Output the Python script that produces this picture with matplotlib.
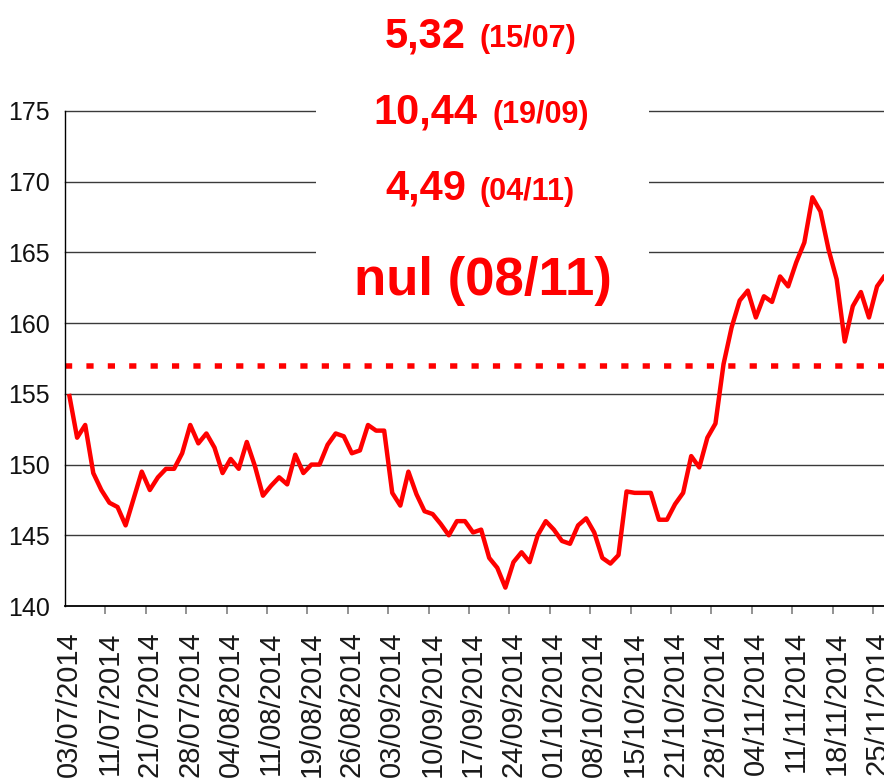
import matplotlib
matplotlib.use("Agg")
import matplotlib.pyplot as plt
from matplotlib.patches import Rectangle
from matplotlib.ticker import FixedLocator
import numpy as np

# ---------------- data ----------------
values = [
    155.0, 151.9, 152.8, 149.4, 148.2, 147.3, 147.0, 145.7, 147.6, 149.5,
    148.2, 149.1, 149.7, 149.7, 150.8, 152.8, 151.5, 152.2, 151.2, 149.4,
    150.4, 149.7, 151.6, 149.9, 147.8, 148.5, 149.1, 148.6, 150.7, 149.4,
    150.0, 150.0, 151.4, 152.2, 152.0, 150.8, 151.0, 152.8, 152.4, 152.4,
    148.0, 147.1, 149.5, 147.9, 146.7, 146.5, 145.8, 145.0, 146.0, 146.0,
    145.2, 145.4, 143.4, 142.7, 141.3, 143.1, 143.8, 143.1, 145.0, 146.0,
    145.4, 144.6, 144.4, 145.7, 146.2, 145.2, 143.4, 143.0, 143.6, 148.1,
    148.0, 148.0, 148.0, 146.1, 146.1, 147.2, 148.0, 150.6, 149.8, 151.9,
    152.9, 157.1, 159.7, 161.6, 162.3, 160.4, 161.9, 161.5, 163.3, 162.6,
    164.3, 165.7, 168.9, 167.9, 165.2, 163.1, 158.7, 161.2, 162.2, 160.4,
    162.6, 163.4,
]
tick_labels = [
    "03/07/2014", "11/07/2014", "21/07/2014", "28/07/2014", "04/08/2014",
    "11/08/2014", "19/08/2014", "26/08/2014", "03/09/2014", "10/09/2014",
    "17/09/2014", "24/09/2014", "01/10/2014", "08/10/2014", "15/10/2014",
    "21/10/2014", "28/10/2014", "04/11/2014", "11/11/2014", "18/11/2014",
    "25/11/2014",
]
label_step = 5
threshold = 157.0
y_ticks = [140, 145, 150, 155, 160, 165, 170, 175]
notes_big = ["5,32", "10,44", "4,49"]
notes_small = ["(15/07)", "(19/09)", "(04/11)"]
final_note = "nul (08/11)"

# ---------------- figure ----------------
W, H = 884, 783
fig = plt.figure(figsize=(W / 100, H / 100), dpi=100)
fig.patch.set_facecolor("white")

ax_left, ax_right, ax_top, ax_bottom = 65, 884, 111, 606
ax = fig.add_axes([ax_left / W, (H - ax_bottom) / H,
                   (ax_right - ax_left) / W, (ax_bottom - ax_top) / H])
x = np.arange(len(values))
ax.set_xlim(-0.5, 100.86)
ax.set_ylim(140, 175)

# gridlines
for yv in y_ticks[1:]:
    ax.axhline(yv, color="#3a3a3a", lw=1.0, zorder=1, clip_on=False)

# threshold dotted line
ax.axhline(threshold, color="#ff0000", lw=3.96, linestyle=(0, (1.31, 2.58)),
           dash_capstyle="butt", zorder=2)

# main series
ax.plot(x, values, color="#ff0000", lw=3.2, solid_joinstyle="round",
        solid_capstyle="butt", zorder=3)

# spines
for s in ("top", "right"):
    ax.spines[s].set_visible(False)
ax.spines["left"].set_color("#000000")
ax.spines["left"].set_linewidth(1.0)
ax.spines["bottom"].set_color("#000000")
ax.spines["bottom"].set_linewidth(1.3)

# y axis
ax.set_yticks(y_ticks)
ax.set_yticklabels([str(v) for v in y_ticks],
                   fontfamily=["Liberation Sans", "DejaVu Sans"],
                   fontsize=18, color="#111111")
ax.tick_params(axis="y", length=0, pad=10.8)

# x axis
major_pos = list(range(0, len(tick_labels) * label_step, label_step))
ax.xaxis.set_major_locator(FixedLocator(major_pos))
ax.set_xticklabels(tick_labels, rotation=90,
                   fontfamily=["Liberation Sans", "DejaVu Sans"],
                   fontsize=21, color="#1a1a1a")
ax.xaxis.set_minor_locator(FixedLocator([p + 4.5 for p in range(0, 105, 5)]))
ax.tick_params(axis="x", which="major", length=0, pad=18.2)
ax.tick_params(axis="x", which="minor", length=5.8, width=1.2, color="#808080")

# white box behind annotations
rect = Rectangle((316 / W, (H - 305) / H), (649 - 316) / W, 305 / H,
                 transform=fig.transFigure, facecolor="white",
                 edgecolor="none", zorder=1)
fig.add_artist(rect)

red = "#ff0000"
fam = ["Liberation Sans", "DejaVu Sans"]
big_right = [466, 477, 466]
small_left = [480, 492, 480]
baselines = [47, 123, 200]
for big, small, xr, xl, yb in zip(notes_big, notes_small, big_right, small_left, baselines):
    fig.text(xr / W, 1 - yb / H, big, ha="right", va="baseline",
             fontsize=30, fontweight="bold", color=red, family=fam, zorder=5)
    fig.text(xl / W, 1 - yb / H, small, ha="left", va="baseline",
             fontsize=22, fontweight="bold", color=red, family=fam, zorder=5)
fig.text(483 / W, 1 - 295 / H, final_note, ha="center", va="baseline",
         fontsize=38, fontweight="bold", color=red, family=fam, zorder=5)

fig.savefig("out.png", dpi=100, facecolor="white")
